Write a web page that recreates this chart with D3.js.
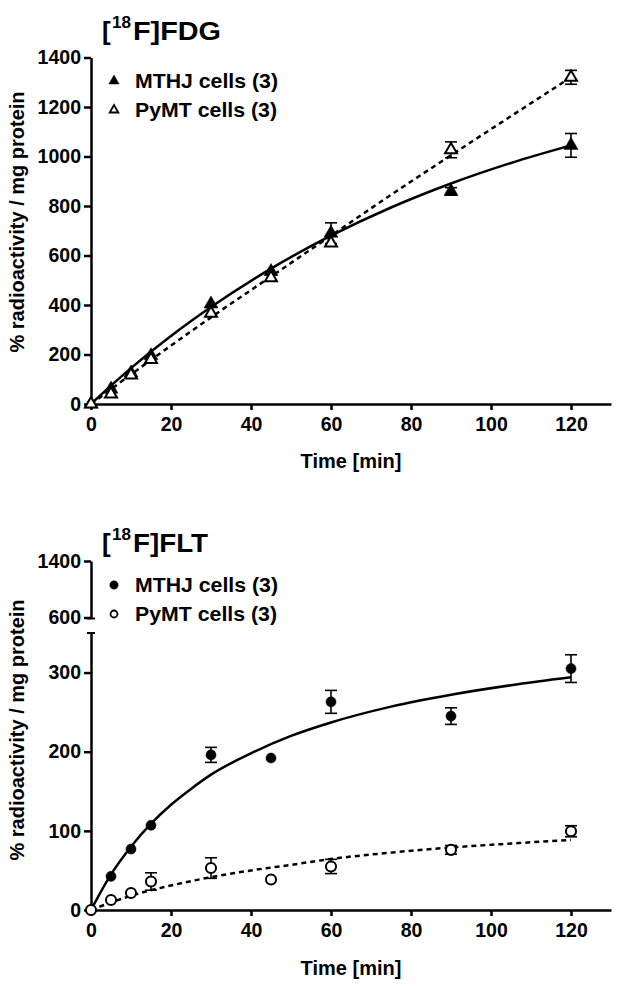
<!DOCTYPE html>
<html><head><meta charset="utf-8">
<script src="https://cdn.jsdelivr.net/npm/d3@7"></script>
<style>
body{margin:0;background:#fff}
svg text{font-family:"Liberation Sans",Arial,sans-serif;font-weight:bold;fill:#000}
</style>
</head><body>
<svg id="c" width="623" height="986"></svg>
<script>
// ---------- data ----------
const times = [0, 5, 10, 15, 30, 45, 60, 90, 120];
const xTicks = [0, 20, 40, 60, 80, 100, 120];

// [18F]FDG
const fdgMTHJ = [0, 60, 125, 195, 404, 535, 690, 859, 1045];
const fdgMTHJsd = [0, 0, 0, 0, 0, 0, 42, 15, 48];
const fdgPyMT = [0, 40, 117, 180, 366, 510, 650, 1027, 1320];
const fdgPyMTsd = [0, 0, 0, 0, 0, 0, 0, 32, 28];
const fdgFitMTHJt = [0, 5, 10, 20, 30, 45, 60, 75, 90, 105, 120];
const fdgFitMTHJ = [0, 74, 145, 275, 392, 547, 680, 794, 891, 974, 1045];
const fdgFitPyMTt = [0, 15, 30, 45, 60, 75, 90, 105, 120];
const fdgFitPyMT = [0, 178, 350, 515, 680, 845, 1005, 1163, 1320];
const fdgYTicks = [0, 200, 400, 600, 800, 1000, 1200, 1400];

// [18F]FLT
const fltMTHJ = [0, 42.5, 77, 107, 196, 192, 263, 245, 305];
const fltMTHJsd = [0, 0, 0, 0, 9.5, 0, 14.5, 10.5, 17.5];
const fltPyMT = [0, 12.7, 21.5, 36, 53, 38.5, 55, 76, 99.5];
const fltPyMTsd = [0, 0, 0, 11, 13, 0, 9, 5.5, 7];
const fltFitT = [0, 5, 10, 15, 20, 25, 30, 40, 50, 60, 75, 90, 105, 120];
const fltFitMTHJ = [0, 45, 80, 109, 133, 153, 171, 198, 220, 237, 257, 272, 284, 294];
const fltFitPyMT = [0, 9.5, 18, 25, 31, 36.5, 41.5, 50, 57, 64.5, 72.5, 79, 84, 88.6];
const fltYTicksLow = [0, 100, 200, 300];
const fltYTicksHigh = [600, 1400];

// ---------- drawing ----------
const svg = d3.select("#c");
const FONT = "Liberation Sans, Arial, sans-serif";
const x = d3.scaleLinear().domain([0, 130]).range([91, 611]);

function styleAxis(g){
  g.attr("font-size", 19.5).attr("font-family", FONT).attr("font-weight", "bold");
  g.select(".domain").attr("stroke-width", 2.5).attr("stroke", "#000");
  g.selectAll(".tick line").attr("stroke-width", 2.5).attr("stroke", "#000");
  g.selectAll(".tick text").attr("fill", "#000");
}

function drawXAxis(y0, titleY){
  const g = svg.append("g").attr("transform", `translate(0,${y0})`)
    .call(d3.axisBottom(x).tickValues(xTicks).tickSize(6).tickSizeOuter(0).tickPadding(7).tickFormat(d3.format("d")));
  styleAxis(g);
  svg.append("text").attr("x", 351).attr("y", titleY).attr("text-anchor", "middle")
    .attr("font-size", 20).text("Time [min]");
}

function yTitle(cy){
  svg.append("text").attr("transform", `translate(24,${cy}) rotate(-90)`)
    .attr("text-anchor", "middle").attr("font-size", 20)
    .text("% radioactivity / mg protein");
}

function title(y, rest, restLen){
  svg.append("text").attr("x", 102).attr("y", y).attr("font-size", 26).text("[");
  svg.append("text").attr("x", 112).attr("y", y - 12).attr("font-size", 16)
    .attr("textLength", 19).attr("lengthAdjust", "spacingAndGlyphs").text("18");
  svg.append("text").attr("x", 133).attr("y", y).attr("font-size", 26)
    .attr("textLength", restLen).attr("lengthAdjust", "spacingAndGlyphs").text(rest);
}

function legendItem(cy, sym, filled, label, len){
  svg.append("path").attr("transform", `translate(114,${cy})`)
    .attr("d", d3.symbol(sym, sym === d3.symbolTriangle ? (filled ? 45 : 32) : (filled ? 55 : 38))())
    .attr("fill", filled ? "#000" : "#fff").attr("stroke", "#000").attr("stroke-width", filled ? 0.5 : 1.8);
  svg.append("text").attr("x", 135).attr("y", cy + 7).attr("font-size", 20.5)
    .attr("textLength", len).attr("lengthAdjust", "spacingAndGlyphs").text(label);
}

function series(y, vals, sds, fitT, fitV, dashed, sym, filled){
  const g = svg.append("g");
  const line = d3.line().x((d, i) => x(fitT[i])).y(d => y(d)).curve(d3.curveMonotoneX);
  g.append("path").attr("d", line(fitV)).attr("fill", "none").attr("stroke", "#000")
    .attr("stroke-width", 2.5).attr("stroke-dasharray", dashed ? "5,4" : null);
  const pts = times.map((t, i) => ({t, v: vals[i], sd: sds[i]}));
  const eb = g.selectAll(".eb").data(pts.filter(d => d.sd > 0)).enter().append("g");
  eb.append("line").attr("x1", d => x(d.t)).attr("x2", d => x(d.t))
    .attr("y1", d => y(d.v - d.sd)).attr("y2", d => y(d.v + d.sd)).attr("stroke", "#000").attr("stroke-width", 1.6);
  [-1, 1].forEach(s => {
    eb.append("line").attr("x1", d => x(d.t) - 6).attr("x2", d => x(d.t) + 6)
      .attr("y1", d => y(d.v + s * d.sd)).attr("y2", d => y(d.v + s * d.sd))
      .attr("stroke", "#000").attr("stroke-width", 1.6);
  });
  const size = sym === d3.symbolTriangle ? (filled ? 85 : 62) : 80;
  g.selectAll(".m").data(pts).enter().append("path")
    .attr("transform", d => `translate(${x(d.t)},${y(d.v)})`)
    .attr("d", d3.symbol(sym, size)())
    .attr("fill", filled ? "#000" : "#fff").attr("stroke", "#000")
    .attr("stroke-width", filled ? 0.5 : 2);
}

// ----- Panel 1: FDG -----
const y1 = d3.scaleLinear().domain([0, 1400]).range([404, 57.5]);
title(39.5, "F]FDG", 88);
{
  const g = svg.append("g").attr("transform", "translate(91,0)")
    .call(d3.axisLeft(y1).tickValues(fdgYTicks).tickSize(7).tickSizeOuter(0).tickPadding(3).tickFormat(d3.format("d")));
  styleAxis(g);
}
drawXAxis(404, 468);
yTitle(222);
series(y1, fdgMTHJ, fdgMTHJsd, fdgFitMTHJt, fdgFitMTHJ, false, d3.symbolTriangle, true);
series(y1, fdgPyMT, fdgPyMTsd, fdgFitPyMTt, fdgFitPyMT, true, d3.symbolTriangle, false);
legendItem(81, d3.symbolTriangle, true, "MTHJ cells (3)", 143);
legendItem(110, d3.symbolTriangle, false, "PyMT cells (3)", 142);

// ----- Panel 2: FLT (broken y axis) -----
const y2 = d3.scaleLinear().domain([0, 350]).range([910, 633]);
const y2h = d3.scaleLinear().domain([600, 1400]).range([617.5, 561]);
title(552, "F]FLT", 75);
{
  const g = svg.append("g").attr("transform", "translate(91,0)")
    .call(d3.axisLeft(y2).tickValues(fltYTicksLow).tickSize(7).tickSizeOuter(0).tickPadding(3).tickFormat(d3.format("d")));
  styleAxis(g);
  const h = svg.append("g").attr("transform", "translate(91,0)")
    .call(d3.axisLeft(y2h).tickValues(fltYTicksHigh).tickSize(7).tickSizeOuter(0).tickPadding(3).tickFormat(d3.format("d")));
  styleAxis(h);
  // break caps
  [y2h(600) + 1, y2(350)].forEach(cy => {
    svg.append("line").attr("x1", 87).attr("x2", 95).attr("y1", cy).attr("y2", cy)
      .attr("stroke", "#000").attr("stroke-width", 2);
  });
}
drawXAxis(910, 975);
yTitle(730);
series(y2, fltMTHJ, fltMTHJsd, fltFitT, fltFitMTHJ, false, d3.symbolCircle, true);
series(y2, fltPyMT, fltPyMTsd, fltFitT, fltFitPyMT, true, d3.symbolCircle, false);
legendItem(585, d3.symbolCircle, true, "MTHJ cells (3)", 143);
legendItem(614, d3.symbolCircle, false, "PyMT cells (3)", 142);
</script>
</body></html>
